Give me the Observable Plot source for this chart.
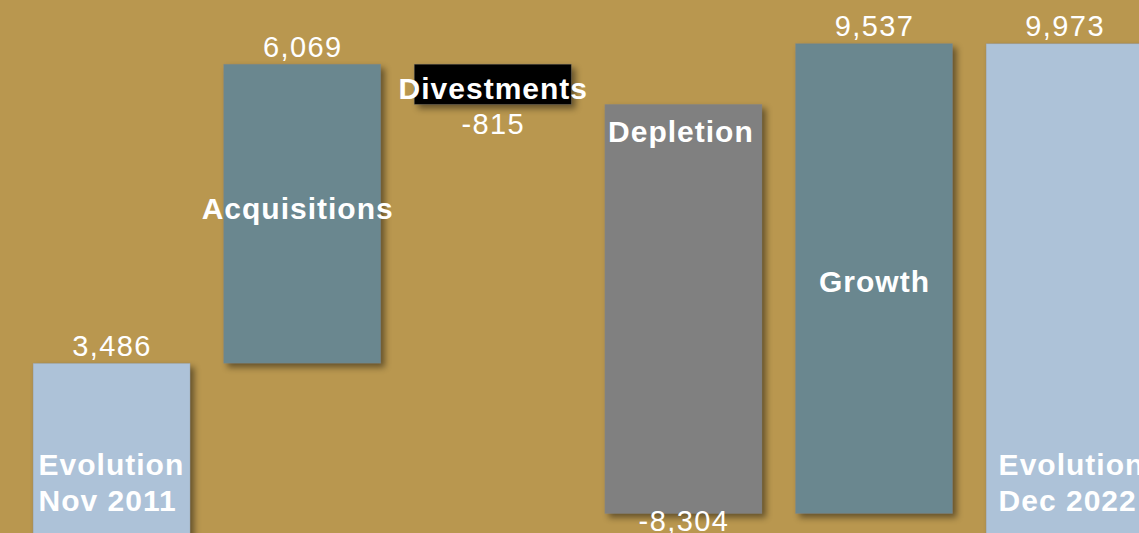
<!DOCTYPE html>
<html>
<head>
<meta charset="utf-8">
<script src="https://cdn.jsdelivr.net/npm/d3@7"></script>
<script src="https://cdn.jsdelivr.net/npm/@observablehq/plot@0.6"></script>
<style>
  html, body { margin: 0; padding: 0; background: #b9974f; overflow: hidden; }
  #chart svg { display: block; }
  #chart g[aria-label="bar"] rect { filter: drop-shadow(4px 4px 3px rgba(0,0,0,0.45)); }
  #chart text.val { letter-spacing: 1.4px; }
  #chart text.cat { letter-spacing: 1px; }
</style>
</head>
<body>
<div id="chart"></div>
<script>
// ---- data ----
const categories = ["Evolution Nov 2011", "Acquisitions", "Divestments", "Depletion", "Growth", "Evolution Dec 2022"];
const labels = ["Evolution\nNov 2011", "Acquisitions", "Divestments", "Depletion", "Growth", "Evolution\nDec 2022"];
const values = [3486, 6069, -815, -8304, 9537, 9973];
const kinds = ["total", "increase", "decrease", "decrease", "increase", "total"];

// ---- build waterfall table ----
let running = 0;
const rows = categories.map((c, i) => {
  let start, end;
  if (kinds[i] === "total") { start = 0; end = values[i]; running = values[i]; }
  else { start = running; end = running + values[i]; running = end; }
  return { cat: c, label: labels[i], value: values[i], kind: kinds[i],
           lo: Math.min(start, end), hi: Math.max(start, end), mid: (start + end) / 2 };
});

const fmt = d3.formatLocale({ decimal: ".", thousands: ",", grouping: [3], currency: ["", ""], minus: "-" }).format(",");
const colorRange = ["#adc2d8", "#6a878f", "#000000", "#808080", "#6a878f", "#adc2d8"];

const font = "'Liberation Sans', Arial, sans-serif";
const W = 1139, H = 533;
const valStyle = { fill: "white", fontSize: 29, fontFamily: font, lineAnchor: "middle" };
const catStyle = { fill: "white", fontSize: 30, fontWeight: "bold", fontFamily: font, lineAnchor: "middle" };

function tag(cls) {
  return (index, scales, values, dims, context, next) => {
    const g = next(index, scales, values, dims, context);
    g.querySelectorAll("text").forEach(t => t.setAttribute("class", cls));
    return g;
  };
}

const chart = Plot.plot({
  width: W,
  height: H,
  style: { background: "#b9974f", fontFamily: font, overflow: "hidden" },
  x: { domain: categories, range: [-0.5, 1176.7], padding: 0.176, round: false, axis: null },
  y: { domain: [0, 10000], range: [535, 42.3], axis: null },
  color: { domain: categories, range: colorRange },
  marks: [
    Plot.barY(rows, { x: "cat", y1: "lo", y2: "hi", fill: "cat", stroke: "#8a8a8a", strokeOpacity: 0.4, strokeWidth: 0.8 }),
    // value labels above (totals / increases)
    Plot.text(rows.filter(d => d.value > 0), {
      x: "cat", y: "hi", text: d => fmt(d.value), dy: -17, ...valStyle, render: tag("val")
    }),
    // value labels below (decreases)
    Plot.text(rows.filter(d => d.cat === "Divestments"), {
      x: "cat", y: "lo", text: d => fmt(d.value), dy: 20, ...valStyle, render: tag("val")
    }),
    Plot.text(rows.filter(d => d.cat === "Depletion"), {
      x: "cat", y: "lo", text: d => fmt(d.value), dy: 8, ...valStyle, render: tag("val")
    }),
    // category labels
    Plot.text(rows.filter(d => d.cat === "Evolution Nov 2011"), {
      x: "cat", y: () => 0, text: "label", dy: -54, dx: -73.5, textAnchor: "start", lineHeight: 1.2,
      ...catStyle, render: tag("cat")
    }),
    Plot.text(rows.filter(d => d.cat === "Evolution Dec 2022"), {
      x: "cat", y: () => 0, text: "label", dy: -54, dx: -66.5, textAnchor: "start", lineHeight: 1.2,
      ...catStyle, render: tag("cat")
    }),
    Plot.text(rows.filter(d => d.cat === "Acquisitions"), {
      x: "cat", y: "mid", text: "label", dy: -5, dx: -5, ...catStyle, render: tag("cat")
    }),
    Plot.text(rows.filter(d => d.cat === "Growth"), {
      x: "cat", y: "mid", text: "label", dy: 3, ...catStyle, render: tag("cat")
    }),
    Plot.text(rows.filter(d => d.cat === "Divestments"), {
      x: "cat", y: "mid", text: "label", dy: 5, ...catStyle, render: tag("cat")
    }),
    Plot.text(rows.filter(d => d.cat === "Depletion"), {
      x: "cat", y: "hi", text: "label", dy: 28, dx: -3, ...catStyle, render: tag("cat")
    })
  ]
});
document.getElementById("chart").appendChild(chart);
</script>
</body>
</html>
